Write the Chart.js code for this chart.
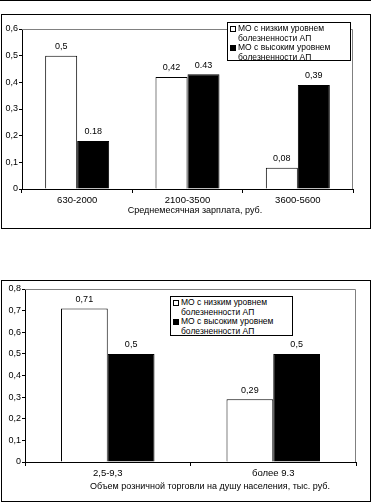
<!DOCTYPE html>
<html>
<head>
<meta charset="utf-8">
<script src="https://cdn.jsdelivr.net/npm/chart.js@4.4.1/dist/chart.umd.min.js"></script>
<style>
  body { margin: 0; background: #fff; font-family: 'Liberation Sans', Arial, sans-serif; color: #000; }
  #page { position: relative; width: 371px; height: 502px; overflow: hidden; }
  .frame { position: absolute; border: 1px solid #000; box-sizing: border-box; }
  canvas { position: absolute; left: 0; }
  .legend { position: absolute; background: #fff; border: 1px solid #000; box-sizing: border-box;
            font-size: 8.5px; line-height: 9.5px; padding: 1px 2px; }
  .legend .row { position: relative; padding-left: 8px; margin-bottom: 0; }
  .legend .sw { position: absolute; left: 0; top: 2px; width: 6px; height: 6px; box-sizing: border-box; border: 1px solid #000; }
  .axis-title { position: absolute; font-size: 9px; white-space: nowrap; transform: translateX(-50%); }
</style>
</head>
<body>
<div id="page">
  <div class="frame" style="left:0;top:0;width:371px;height:1px;border-width:1px 0 0 0"></div>
  <div class="frame" style="left:1px;top:14px;width:370px;height:215px"></div>
  <div class="frame" style="left:1px;top:280px;width:370px;height:222px"></div>
  <canvas id="salaryChart" style="top:0" width="371" height="230"></canvas>
  <canvas id="retailChart" style="top:270px" width="371" height="232"></canvas>
  <div class="axis-title" style="left:195px;top:205px">Среднемесячная зарплата, руб.</div>
  <div class="axis-title" style="left:210px;top:481px">Объем розничной торговли на душу населения, тыс. руб.</div>
  <div class="legend" style="left:227px;top:22px;width:124px;height:39px">
    <div class="row"><span class="sw" style="background:#fff"></span>МО с низким уровнем<br>болезненности АП</div>
    <div class="row"><span class="sw" style="background:#000"></span>МО с высоким уровнем<br>болезненности АП</div>
  </div>
  <div class="legend" style="left:170px;top:296px;width:123px;height:40px">
    <div class="row"><span class="sw" style="background:#fff"></span>МО с низким уровнем<br>болезненности АП</div>
    <div class="row"><span class="sw" style="background:#000"></span>МО с высоким уровнем<br>болезненности АП</div>
  </div>
</div>
<script>
const salaryCategories = ['630-2000', '2100-3500', '3600-5600'];
const salaryLow = [0.5, 0.42, 0.08];
const salaryHigh = [0.18, 0.43, 0.39];
const salaryLowLabels = ['0,5', '0,42', '0,08'];
const salaryHighLabels = ['0.18', '0.43', '0,39'];

const retailCategories = ['2,5-9,3', 'более 9.3'];
const retailLow = [0.71, 0.29];
const retailHigh = [0.5, 0.5];
const retailLowLabels = ['0,71', '0,29'];
const retailHighLabels = ['0,5', '0,5'];

const seriesNames = ['МО с низким уровнем болезненности АП', 'МО с высоким уровнем болезненности АП'];
const FONT = "'Liberation Sans', Arial, sans-serif";

// gray frame on top and right of the plot, value labels above bars
const plotExtras = {
    id: 'plotExtras',
    beforeDatasetsDraw(chart) {
        const { ctx, chartArea: a } = chart;
        ctx.save();
        ctx.strokeStyle = '#808080';
        ctx.lineWidth = 1;
        ctx.beginPath();
        ctx.moveTo(a.left, a.top + 0.5);
        ctx.lineTo(a.right - 0.5, a.top + 0.5);
        ctx.lineTo(a.right - 0.5, a.bottom);
        ctx.stroke();
        ctx.restore();
    },
    afterDatasetsDraw(chart) {
        const { ctx } = chart;
        ctx.save();
        ctx.font = '9px ' + FONT;
        ctx.fillStyle = '#000';
        ctx.textAlign = 'center';
        ctx.textBaseline = 'middle';
        chart.data.datasets.forEach((ds, i) => {
            chart.getDatasetMeta(i).data.forEach((bar, j) => {
                ctx.fillText(ds.valueLabels[j], bar.x, bar.y - 9);
            });
        });
        ctx.restore();
    }
};

function makeChart(id, categories, low, high, lowLabels, highLabels, yMax, opts) {
    return new Chart(document.getElementById(id), {
        type: 'bar',
        data: {
            labels: categories,
            datasets: [{
                label: seriesNames[0],
                data: low,
                valueLabels: lowLabels,
                backgroundColor: '#ffffff',
                borderColor: '#000000',
                borderWidth: 1
            }, {
                label: seriesNames[1],
                data: high,
                valueLabels: highLabels,
                backgroundColor: '#000000',
                borderColor: '#000000',
                borderWidth: 1
            }]
        },
        options: {
            responsive: false,
            animation: false,
            layout: { padding: { left: 0, right: opts.right, top: opts.top, bottom: 0 } },
            categoryPercentage: opts.catPct,
            barPercentage: 1,
            plugins: {
                legend: { display: false },
                tooltip: { enabled: false }
            },
            scales: {
                x: {
                    grid: { offset: true, drawOnChartArea: false, tickLength: 4, color: '#000' },
                    border: { color: '#000' },
                    ticks: { color: '#000', padding: 2, font: { family: FONT, size: 9.5 } },
                    afterFit(scale) { scale.height = opts.xHeight; }
                },
                y: {
                    min: 0,
                    max: yMax,
                    grid: { drawOnChartArea: false, tickLength: 3, color: '#000' },
                    border: { color: '#000' },
                    ticks: {
                        stepSize: 0.1,
                        padding: 1,
                        color: '#000',
                        font: { family: FONT, size: 9 },
                        callback: v => v === 0 ? '0' : v.toFixed(1).replace('.', ',')
                    },
                    afterFit(scale) { scale.width = opts.yWidth; }
                }
            }
        },
        plugins: [plotExtras]
    });
}

makeChart('salaryChart', salaryCategories, salaryLow, salaryHigh, salaryLowLabels, salaryHighLabels, 0.6,
    { right: 18, top: 29, xHeight: 41, yWidth: 22, catPct: 0.58 });
makeChart('retailChart', retailCategories, retailLow, retailHigh, retailLowLabels, retailHighLabels, 0.8,
    { right: 15, top: 19, xHeight: 40, yWidth: 25, catPct: 0.565 });
</script>
</body>
</html>
